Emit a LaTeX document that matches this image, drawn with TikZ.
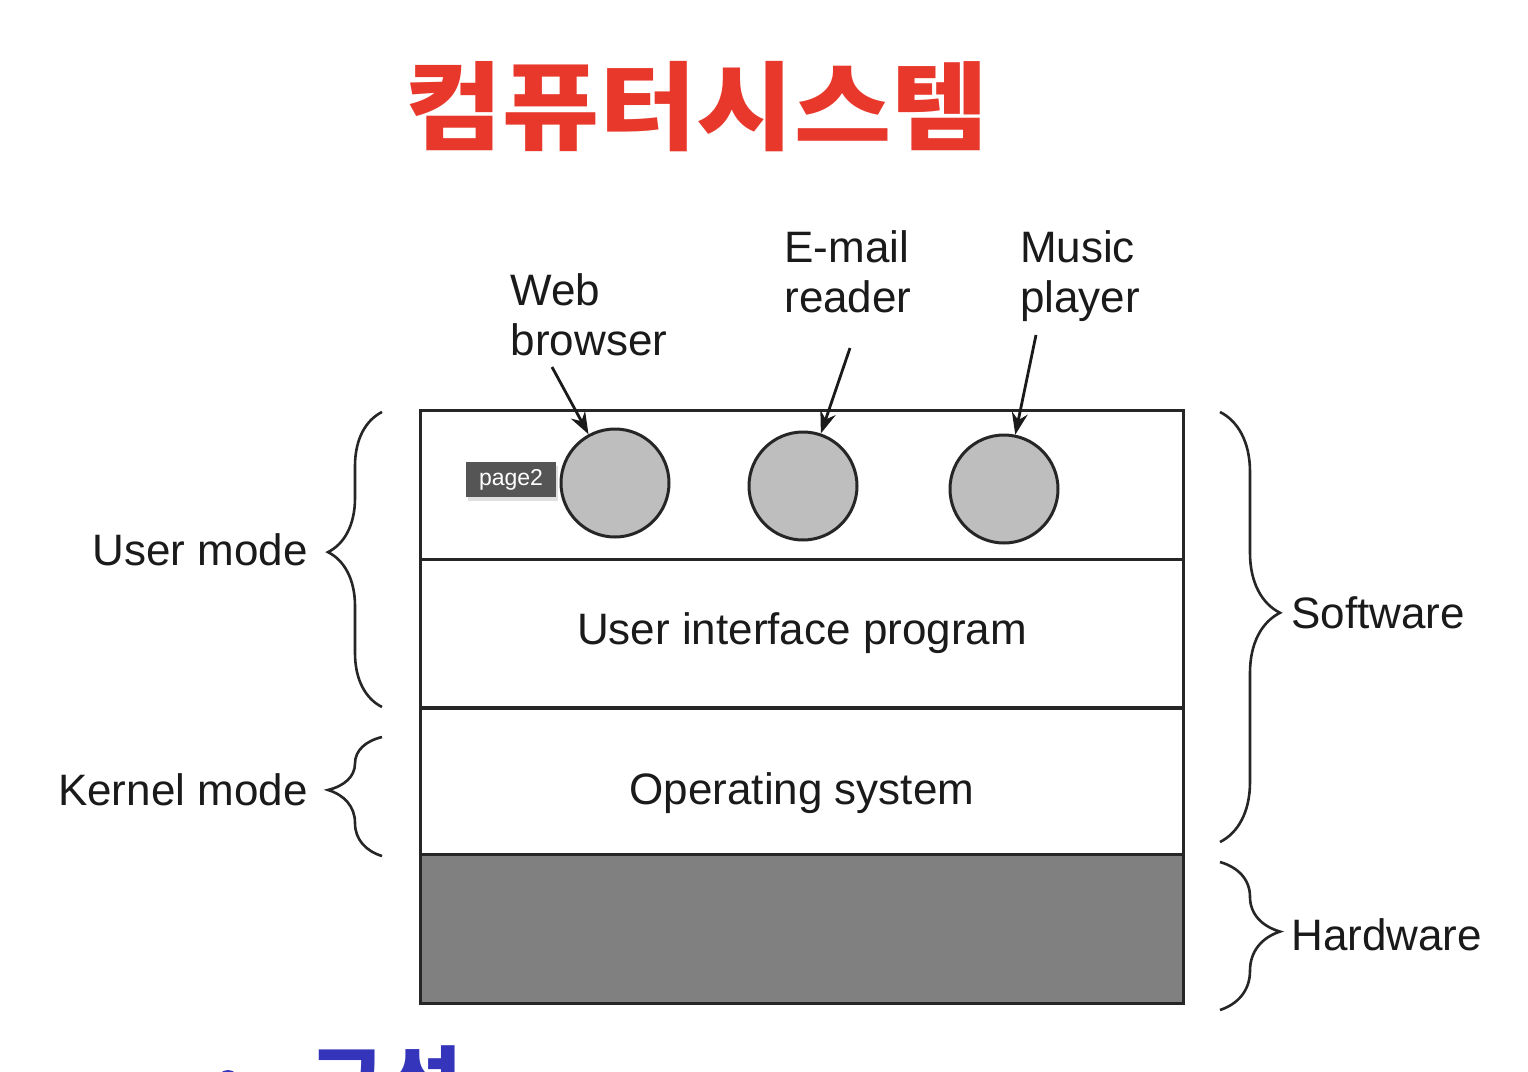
\documentclass[tikz,border=0pt]{standalone}
\usepackage{fontspec}
\setmainfont{Liberation Sans}
\newfontfamily\krfont{Noto Sans CJK KR}
\usetikzlibrary{arrows.meta,decorations.pathreplacing,shadows}
\definecolor{titlered}{HTML}{E8382B}
\definecolor{subblue}{HTML}{3535BB}
\definecolor{linec}{HTML}{262626}
\definecolor{textc}{HTML}{1A1A1A}
\definecolor{appgray}{HTML}{BEBEBE}
\definecolor{hwgray}{HTML}{808080}
\definecolor{tipgray}{HTML}{555555}
\begin{document}
\begin{tikzpicture}[x=0.5pt,y=-0.5pt,
  layer/.style={draw=linec, line width=1.5pt, minimum width=381.5pt, minimum height=74.5pt, inner sep=0pt, outer sep=0pt},
  app/.style={circle, draw=linec, line width=1.5pt, fill=appgray, minimum size=54pt, inner sep=0pt},
  lbl/.style={font=\fontsize{22}{25}\selectfont, text=textc, inner sep=0pt},
  arr/.style={draw=textc, line width=1.4pt, -{Stealth[length=11pt,width=8pt]}},
  bracestyle/.style={draw=linec, line width=1.3pt, decorate, decoration={brace, amplitude=#1}},
]
\clip (0,0) rectangle (1528,1072);
\fill[white] (0,0) rectangle (1528,1072);

% title
\node[inner sep=0pt, text=titlered, font=\krfont\bfseries\fontsize{48}{52}\selectfont] (title) at (697,107) {\scalebox{1.1}[1]{컴퓨터시스템}};

% layers
\node[layer] (apps) at (801.5,484.5) {};
\node[layer] (ui) at (801.5,633.5) {};
\node[layer] (oslayer) at (801.5,781.5) {};
\node[layer, fill=hwgray] (hw) at (801.5,929) {};
\node[lbl] (uit) at (802,633) {User interface program};
\node[lbl] (ost) at (802,793) {Operating system};

% applications
\node[app] (c1) at (615,483) {};
\node[app] (c2) at (803,486) {};
\node[app] (c3) at (1004,489) {};

\node[lbl, align=left] (webl) at (589,315) {Web\\browser};
\node[lbl, align=left] (maill) at (848,272) {E-mail\\reader};
\node[lbl, align=left] (musl) at (1080,276) {Music\\player};

\coordinate (wa) at (552,367);
\coordinate (ma) at (850,348);
\coordinate (pa) at (1036,335);
\draw[arr] (wa) -- (c1);
\draw[arr] (ma) -- (c2);
\draw[arr] (pa) -- (c3);

% page2 tag
\node[fill=tipgray, text=white, font=\fontsize{11.5}{13}\selectfont, minimum width=45pt, minimum height=17.5pt, inner sep=0pt, drop shadow={opacity=0.25, shadow xshift=1pt, shadow yshift=-2pt}] (tag) at (511,479.5) {page2};

% braces
\coordinate (ub1) at (382,707);
\coordinate (ub2) at (382,412);
\coordinate (kb1) at (382,856);
\coordinate (kb2) at (382,737);
\coordinate (sb1) at (1220,412);
\coordinate (sb2) at (1220,842);
\coordinate (hb1) at (1220,862);
\coordinate (hb2) at (1220,1010);
\draw[bracestyle=27pt, decoration={aspect=0.525}] (ub1) -- (ub2);
\draw[bracestyle=27pt, decoration={aspect=0.555}] (kb1) -- (kb2);
\draw[bracestyle=30pt, decoration={aspect=0.467}] (sb1) -- (sb2);
\draw[bracestyle=30pt, decoration={aspect=0.47}] (hb1) -- (hb2);

\node[lbl, anchor=east] (userm) at (308,550) {User mode};
\node[lbl, anchor=east] (kernm) at (308,790) {Kernel mode};
\node[lbl, anchor=west] (softw) at (1291,613) {Software};
\node[lbl, anchor=west] (hardw) at (1291,935) {Hardware};

% cut-off subtitle
\fill[subblue] (228,1081) circle (11);
\node[anchor=north west, inner sep=0pt, text=subblue, font=\krfont\bfseries\fontsize{42}{46}\selectfont] (sub) at (308,1045) {구성};
\end{tikzpicture}
\end{document}
